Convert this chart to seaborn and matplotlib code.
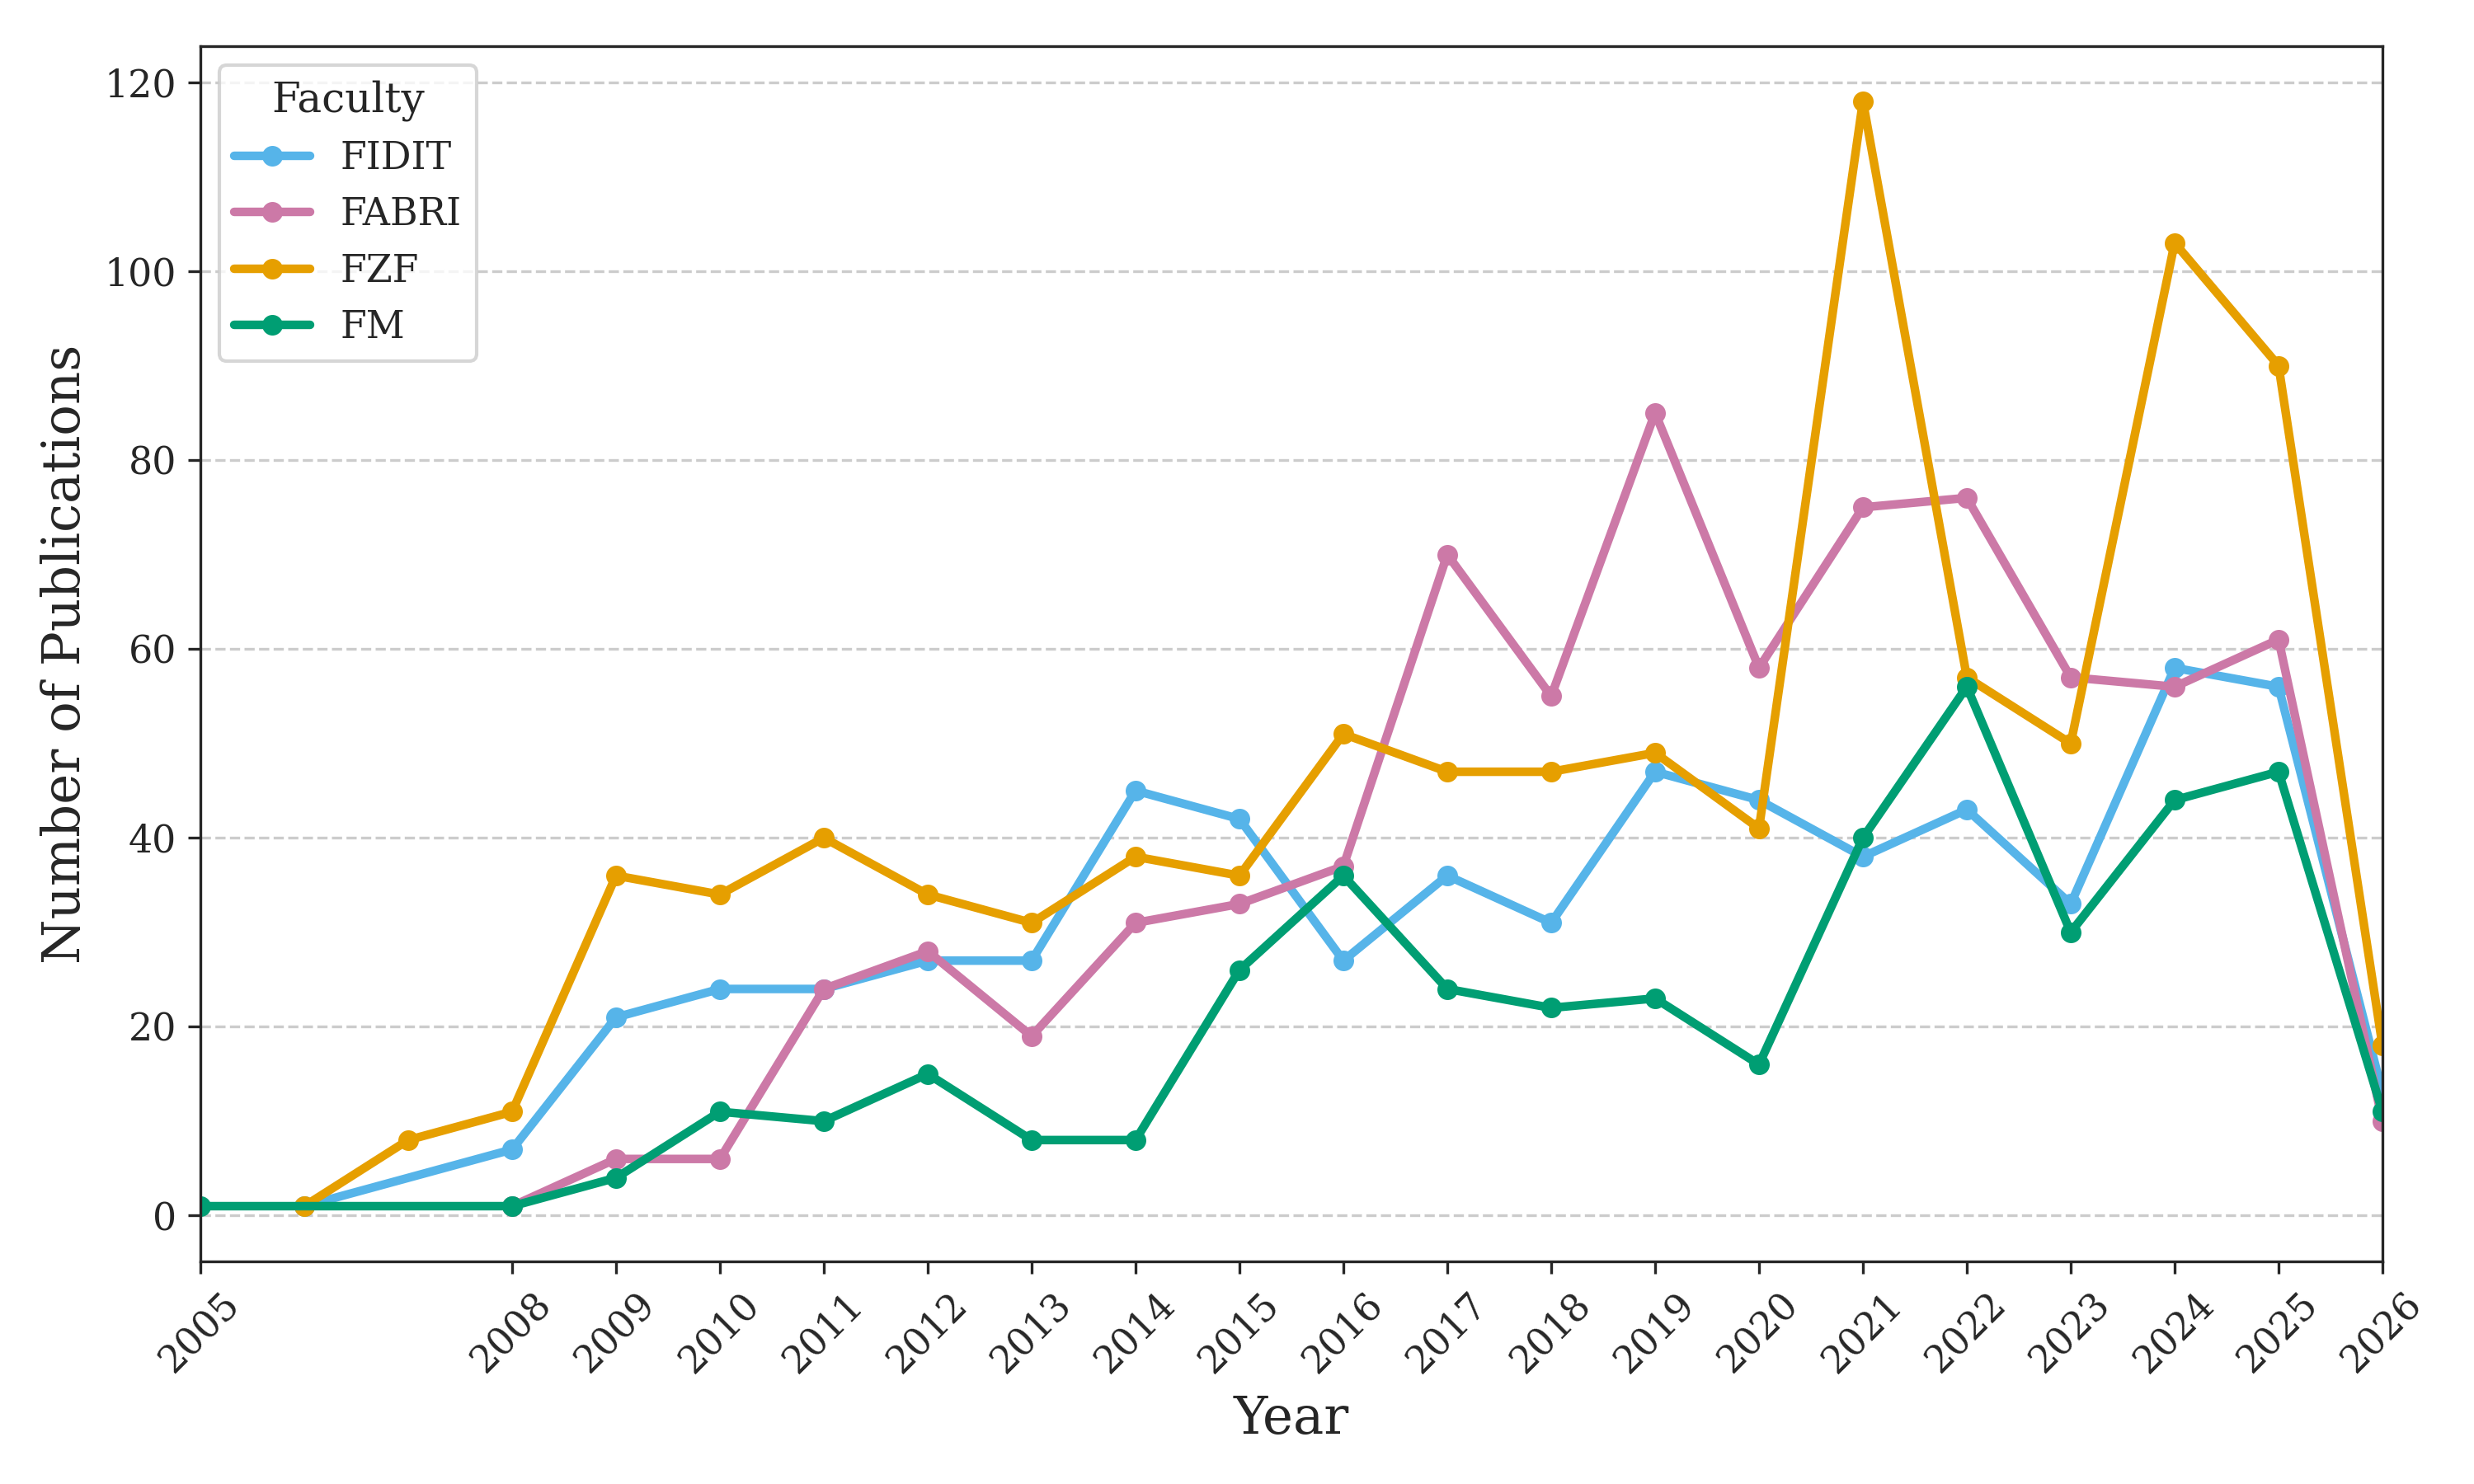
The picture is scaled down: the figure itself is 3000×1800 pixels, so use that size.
import numpy as np
import pandas as pd
import matplotlib
matplotlib.use("Agg")
import matplotlib.pyplot as plt
import seaborn as sns

# ------------------------------------------------------------
# Publications per year, one list pair per faculty
# ------------------------------------------------------------
fidit_years = [2006, 2008, 2009, 2010, 2011, 2012, 2013, 2014, 2015, 2016,
               2017, 2018, 2019, 2020, 2021, 2022, 2023, 2024, 2025, 2026]
fidit_counts = [1, 7, 21, 24, 24, 27, 27, 45, 42, 27,
                36, 31, 47, 44, 38, 43, 33, 58, 56, 13]

fabri_years = [2008, 2009, 2010, 2011, 2012, 2013, 2014, 2015, 2016,
               2017, 2018, 2019, 2020, 2021, 2022, 2023, 2024, 2025, 2026]
fabri_counts = [1, 6, 6, 24, 28, 19, 31, 33, 37,
                70, 55, 85, 58, 75, 76, 57, 56, 61, 10]

fzf_years = [2006, 2007, 2008, 2009, 2010, 2011, 2012, 2013, 2014, 2015, 2016,
             2017, 2018, 2019, 2020, 2021, 2022, 2023, 2024, 2025, 2026]
fzf_counts = [1, 8, 11, 36, 34, 40, 34, 31, 38, 36, 51,
              47, 47, 49, 41, 118, 57, 50, 103, 90, 18]

fm_years = [2005, 2008, 2009, 2010, 2011, 2012, 2013, 2014, 2015, 2016,
            2017, 2018, 2019, 2020, 2021, 2022, 2023, 2024, 2025, 2026]
fm_counts = [1, 1, 4, 11, 10, 15, 8, 8, 26, 36,
             24, 22, 23, 16, 40, 56, 30, 44, 47, 11]

faculties = ["FIDIT", "FABRI", "FZF", "FM"]
series = {
    "FIDIT": (fidit_years, fidit_counts),
    "FABRI": (fabri_years, fabri_counts),
    "FZF":   (fzf_years, fzf_counts),
    "FM":    (fm_years, fm_counts),
}
palette = {"FIDIT": "#56B4E9", "FABRI": "#CC79A7",
           "FZF": "#E69F00", "FM": "#009E73"}

rows = []
for fac in faculties:
    yrs, cnts = series[fac]
    for y, c in zip(yrs, cnts):
        rows.append({"Year": y, "Publications": c, "Faculty": fac})
df = pd.DataFrame(rows)

# ------------------------------------------------------------
# Plot
# ------------------------------------------------------------
sns.set_style("ticks")
plt.rcParams["font.family"] = ["DejaVu Serif"]

fig, ax = plt.subplots(figsize=(10, 6), dpi=300)

sns.lineplot(
    data=df,
    x="Year",
    y="Publications",
    hue="Faculty",
    hue_order=faculties,
    palette=palette,
    marker="o",
    markersize=6,
    markeredgewidth=0,
    linewidth=2.5,
    ax=ax,
)

ax.set_xlim(2005, 2026)
ax.set_xticks(fm_years)
ax.set_xticklabels([str(y) for y in fm_years], rotation=45)
ax.tick_params(axis="both", labelsize=11)
ax.set_xlabel("Year", fontsize=15)
ax.set_ylabel("Number of Publications", fontsize=15)
ax.grid(axis="y", linestyle="--", color="#cccccc", linewidth=0.8)
ax.set_axisbelow(True)

leg = ax.legend(title="Faculty", loc="upper left", fontsize=11,
                title_fontsize=12, frameon=True)

fig.subplots_adjust(left=0.081, right=0.963, top=0.969, bottom=0.150)
plt.savefig("out.png", dpi=300)
plt.close(fig)
